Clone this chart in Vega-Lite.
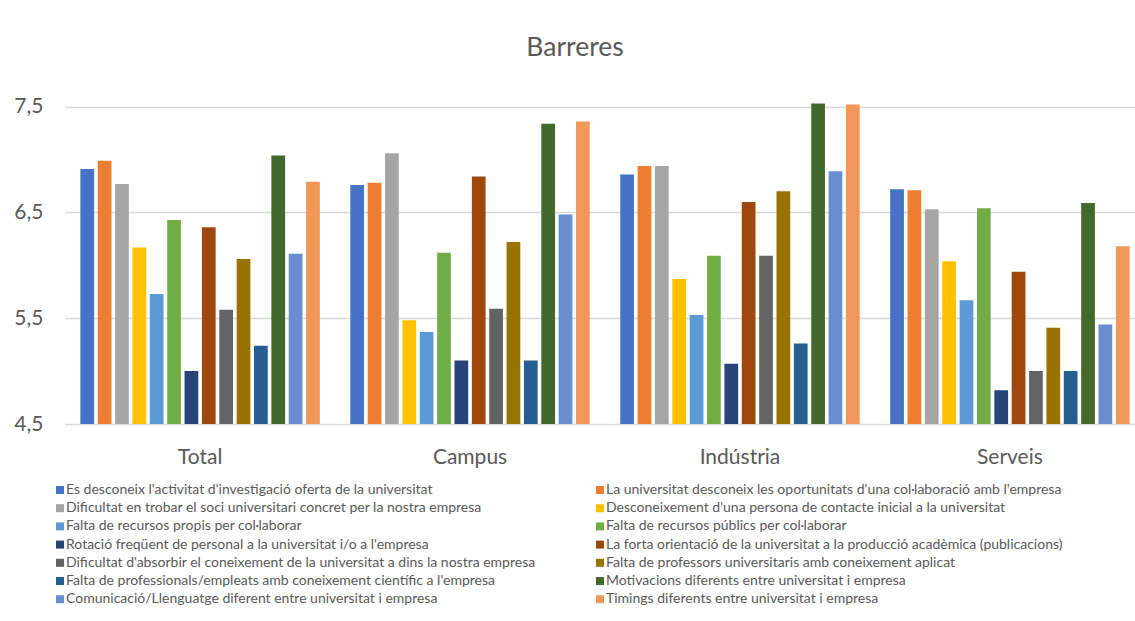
{
  "$schema": "https://vega.github.io/schema/vega-lite/v6.json",
  "autosize": "none",
  "width": 1080,
  "height": 349,
  "padding": {"left": 65, "top": 75, "right": 0, "bottom": 197},
  "background": "white",
  "title": {"text": "Barreres", "fontSize": 26.5, "font": "Lato", "fontWeight": "normal", "color": "#595959", "anchor": "middle", "dx": -30, "dy": 27, "offset": 20, "baseline": "alphabetic"},
  "config": {"view": {"stroke": null}, "font": "Lato"},
  "data": {"values": [
    {"grup": "Total", "barrera": "Es desconeix l'activitat d'investigació oferta de la universitat", "valor": 6.91},
    {"grup": "Total", "barrera": "La universitat desconeix les oportunitats d'una col·laboració amb l'empresa", "valor": 6.99},
    {"grup": "Total", "barrera": "Dificultat en trobar el soci universitari concret per la nostra empresa", "valor": 6.77},
    {"grup": "Total", "barrera": "Desconeixement d'una persona de contacte inicial a la universitat", "valor": 6.17},
    {"grup": "Total", "barrera": "Falta de recursos propis per col·laborar", "valor": 5.73},
    {"grup": "Total", "barrera": "Falta de recursos públics per col·laborar", "valor": 6.43},
    {"grup": "Total", "barrera": "Rotació freqüent de personal a la universitat i/o a l'empresa", "valor": 5.0},
    {"grup": "Total", "barrera": "La forta orientació de la universitat a la producció acadèmica (publicacions)", "valor": 6.36},
    {"grup": "Total", "barrera": "Dificultat d'absorbir el coneixement de la universitat a dins la nostra empresa", "valor": 5.58},
    {"grup": "Total", "barrera": "Falta de professors universitaris amb coneixement aplicat", "valor": 6.06},
    {"grup": "Total", "barrera": "Falta de professionals/empleats amb coneixement científic a l'empresa", "valor": 5.24},
    {"grup": "Total", "barrera": "Motivacions diferents entre universitat i empresa", "valor": 7.04},
    {"grup": "Total", "barrera": "Comunicació/Llenguatge diferent entre universitat i empresa", "valor": 6.11},
    {"grup": "Total", "barrera": "Timings diferents entre universitat i empresa", "valor": 6.79},
    {"grup": "Campus", "barrera": "Es desconeix l'activitat d'investigació oferta de la universitat", "valor": 6.76},
    {"grup": "Campus", "barrera": "La universitat desconeix les oportunitats d'una col·laboració amb l'empresa", "valor": 6.78},
    {"grup": "Campus", "barrera": "Dificultat en trobar el soci universitari concret per la nostra empresa", "valor": 7.06},
    {"grup": "Campus", "barrera": "Desconeixement d'una persona de contacte inicial a la universitat", "valor": 5.48},
    {"grup": "Campus", "barrera": "Falta de recursos propis per col·laborar", "valor": 5.37},
    {"grup": "Campus", "barrera": "Falta de recursos públics per col·laborar", "valor": 6.12},
    {"grup": "Campus", "barrera": "Rotació freqüent de personal a la universitat i/o a l'empresa", "valor": 5.1},
    {"grup": "Campus", "barrera": "La forta orientació de la universitat a la producció acadèmica (publicacions)", "valor": 6.84},
    {"grup": "Campus", "barrera": "Dificultat d'absorbir el coneixement de la universitat a dins la nostra empresa", "valor": 5.59},
    {"grup": "Campus", "barrera": "Falta de professors universitaris amb coneixement aplicat", "valor": 6.22},
    {"grup": "Campus", "barrera": "Falta de professionals/empleats amb coneixement científic a l'empresa", "valor": 5.1},
    {"grup": "Campus", "barrera": "Motivacions diferents entre universitat i empresa", "valor": 7.34},
    {"grup": "Campus", "barrera": "Comunicació/Llenguatge diferent entre universitat i empresa", "valor": 6.48},
    {"grup": "Campus", "barrera": "Timings diferents entre universitat i empresa", "valor": 7.36},
    {"grup": "Indústria", "barrera": "Es desconeix l'activitat d'investigació oferta de la universitat", "valor": 6.86},
    {"grup": "Indústria", "barrera": "La universitat desconeix les oportunitats d'una col·laboració amb l'empresa", "valor": 6.94},
    {"grup": "Indústria", "barrera": "Dificultat en trobar el soci universitari concret per la nostra empresa", "valor": 6.94},
    {"grup": "Indústria", "barrera": "Desconeixement d'una persona de contacte inicial a la universitat", "valor": 5.87},
    {"grup": "Indústria", "barrera": "Falta de recursos propis per col·laborar", "valor": 5.53},
    {"grup": "Indústria", "barrera": "Falta de recursos públics per col·laborar", "valor": 6.09},
    {"grup": "Indústria", "barrera": "Rotació freqüent de personal a la universitat i/o a l'empresa", "valor": 5.07},
    {"grup": "Indústria", "barrera": "La forta orientació de la universitat a la producció acadèmica (publicacions)", "valor": 6.6},
    {"grup": "Indústria", "barrera": "Dificultat d'absorbir el coneixement de la universitat a dins la nostra empresa", "valor": 6.09},
    {"grup": "Indústria", "barrera": "Falta de professors universitaris amb coneixement aplicat", "valor": 6.7},
    {"grup": "Indústria", "barrera": "Falta de professionals/empleats amb coneixement científic a l'empresa", "valor": 5.26},
    {"grup": "Indústria", "barrera": "Motivacions diferents entre universitat i empresa", "valor": 7.53},
    {"grup": "Indústria", "barrera": "Comunicació/Llenguatge diferent entre universitat i empresa", "valor": 6.89},
    {"grup": "Indústria", "barrera": "Timings diferents entre universitat i empresa", "valor": 7.52},
    {"grup": "Serveis", "barrera": "Es desconeix l'activitat d'investigació oferta de la universitat", "valor": 6.72},
    {"grup": "Serveis", "barrera": "La universitat desconeix les oportunitats d'una col·laboració amb l'empresa", "valor": 6.71},
    {"grup": "Serveis", "barrera": "Dificultat en trobar el soci universitari concret per la nostra empresa", "valor": 6.53},
    {"grup": "Serveis", "barrera": "Desconeixement d'una persona de contacte inicial a la universitat", "valor": 6.04},
    {"grup": "Serveis", "barrera": "Falta de recursos propis per col·laborar", "valor": 5.67},
    {"grup": "Serveis", "barrera": "Falta de recursos públics per col·laborar", "valor": 6.54},
    {"grup": "Serveis", "barrera": "Rotació freqüent de personal a la universitat i/o a l'empresa", "valor": 4.82},
    {"grup": "Serveis", "barrera": "La forta orientació de la universitat a la producció acadèmica (publicacions)", "valor": 5.94},
    {"grup": "Serveis", "barrera": "Dificultat d'absorbir el coneixement de la universitat a dins la nostra empresa", "valor": 5.0},
    {"grup": "Serveis", "barrera": "Falta de professors universitaris amb coneixement aplicat", "valor": 5.41},
    {"grup": "Serveis", "barrera": "Falta de professionals/empleats amb coneixement científic a l'empresa", "valor": 5.0},
    {"grup": "Serveis", "barrera": "Motivacions diferents entre universitat i empresa", "valor": 6.59},
    {"grup": "Serveis", "barrera": "Comunicació/Llenguatge diferent entre universitat i empresa", "valor": 5.44},
    {"grup": "Serveis", "barrera": "Timings diferents entre universitat i empresa", "valor": 6.18}
  ]},
  "mark": {"type": "bar", "clip": true},
  "encoding": {
    "x": {
      "field": "grup", "type": "nominal", "sort": ["Total", "Campus", "Indústria", "Serveis"],
      "scale": {"paddingInner": 0.113, "paddingOuter": 0.057},
      "axis": {"title": null, "labelAngle": 0, "ticks": false, "tickSize": 0, "domain": false, "labelFontSize": 21, "labelColor": "#595959", "labelFont": "Lato", "labelBaseline": "alphabetic", "labelPadding": 39}
    },
    "xOffset": {
      "field": "barrera", "type": "nominal",
      "sort": [
        "Es desconeix l'activitat d'investigació oferta de la universitat",
        "La universitat desconeix les oportunitats d'una col·laboració amb l'empresa",
        "Dificultat en trobar el soci universitari concret per la nostra empresa",
        "Desconeixement d'una persona de contacte inicial a la universitat",
        "Falta de recursos propis per col·laborar",
        "Falta de recursos públics per col·laborar",
        "Rotació freqüent de personal a la universitat i/o a l'empresa",
        "La forta orientació de la universitat a la producció acadèmica (publicacions)",
        "Dificultat d'absorbir el coneixement de la universitat a dins la nostra empresa",
        "Falta de professors universitaris amb coneixement aplicat",
        "Falta de professionals/empleats amb coneixement científic a l'empresa",
        "Motivacions diferents entre universitat i empresa",
        "Comunicació/Llenguatge diferent entre universitat i empresa",
        "Timings diferents entre universitat i empresa"
      ],
      "scale": {"paddingInner": 0.21, "paddingOuter": 0}
    },
    "y": {
      "field": "valor", "type": "quantitative",
      "scale": {"domain": [4.5, 7.8], "zero": false, "nice": false},
      "axis": {"title": null, "values": [4.5, 5.5, 6.5, 7.5], "labelExpr": "replace(format(datum.value, '.1f'), '.', ',')", "ticks": false, "tickSize": 0, "domain": false, "grid": true, "gridColor": "#d9d9d9", "gridWidth": 1.3, "labelFontSize": 21, "labelColor": "#595959", "labelFont": "Lato", "labelPadding": 22}
    },
    "color": {
      "field": "barrera", "type": "nominal",
      "scale": {
        "domain": [
          "Es desconeix l'activitat d'investigació oferta de la universitat",
          "Dificultat en trobar el soci universitari concret per la nostra empresa",
          "Falta de recursos propis per col·laborar",
          "Rotació freqüent de personal a la universitat i/o a l'empresa",
          "Dificultat d'absorbir el coneixement de la universitat a dins la nostra empresa",
          "Falta de professionals/empleats amb coneixement científic a l'empresa",
          "Comunicació/Llenguatge diferent entre universitat i empresa",
          "La universitat desconeix les oportunitats d'una col·laboració amb l'empresa",
          "Desconeixement d'una persona de contacte inicial a la universitat",
          "Falta de recursos públics per col·laborar",
          "La forta orientació de la universitat a la producció acadèmica (publicacions)",
          "Falta de professors universitaris amb coneixement aplicat",
          "Motivacions diferents entre universitat i empresa",
          "Timings diferents entre universitat i empresa"
        ],
        "range": ["#4472C4", "#A5A5A5", "#5B9BD5", "#264478", "#636363", "#255E91", "#698ED0", "#ED7D31", "#FFC000", "#70AD47", "#9E480E", "#997300", "#43682B", "#F1975A"]
      },
      "legend": {"title": null, "orient": "none", "legendX": -12, "legendY": 408, "padding": 0, "columns": 2, "columnPadding": 57, "rowPadding": 4.2, "symbolType": "square", "symbolSize": 64, "symbolStrokeWidth": 0, "labelFontSize": 14, "labelFont": "Lato", "labelColor": "#595959", "labelOffset": -1, "labelLimit": 600}
    }
  }
}
